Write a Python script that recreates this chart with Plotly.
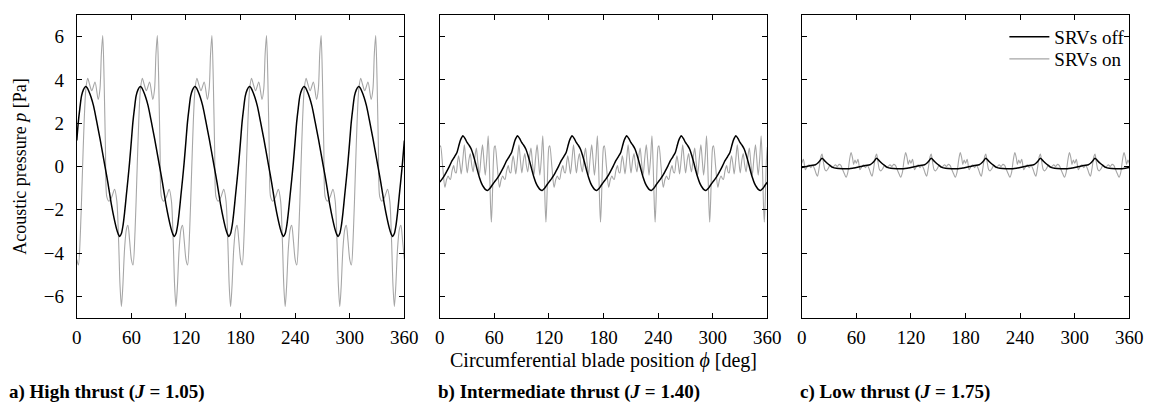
import numpy as np
import plotly.graph_objects as go

# ---------------- data (one 60-degree blade period) ----------------
blade_count = 6
period_deg = 60

# a) High thrust
a_off_phase = [0, 1.6, 3.4, 5.2, 7.3, 9.4, 11.2, 13, 15.7, 18.4, 22, 25.6, 29.2, 32.8, 35.5,
               38.2, 41, 43.6, 45.5, 47.2, 49, 50.8, 52.6, 54.4, 56.2, 58]
a_off_p = [1.2, 2.03, 2.7, 3.26, 3.55, 3.69, 3.65, 3.5, 3.2, 2.8, 2.05, 1.26, 0.42, -0.42, -1.1,
           -1.8, -2.4, -2.87, -3.12, -3.23, -3.1, -2.72, -2.1, -1.34, -0.6, 0.19]
a_on_phase = [0, 1.8, 4, 6, 8, 10, 12, 14, 16.5, 20, 23.5, 25.5, 27, 28.5, 30, 31.5, 33, 35.5,
              38.5, 41.5, 44, 46, 47.5, 49, 50.5, 52.5, 54.5, 56.2, 58]
a_on_p = [-4.3, -4.55, -3.0, -0.5, 2.0, 3.6, 4.07, 3.8, 3.5, 3.9, 3.1, 3.6, 5.2, 6.05, 4.0, 0.8,
          -1.4, -1.6, -1.4, -1.05, -1.6, -3.5, -5.5, -6.47, -5.6, -3.8, -2.9, -2.72, -3.4]

# b) Intermediate thrust
b_off_phase = [0, 2.7, 5.4, 8.1, 10.8, 13.5, 16.2, 18.9, 20.7, 22.5, 24, 25.4, 27.7, 30, 32.4,
               34.7, 36.9, 39.1, 41.3, 43.5, 45.9, 48.3, 50.4, 52.5, 55, 57.3]
b_off_p = [-0.72, -0.57, -0.4, -0.19, 0.03, 0.27, 0.45, 0.65, 0.92, 1.19, 1.33, 1.42, 1.3, 1.11,
           0.97, 0.8, 0.52, 0.19, -0.17, -0.5, -0.78, -0.96, -1.07, -1.11, -1.02, -0.88]
b_on_phase = [0, 0.9, 3.2, 5.6, 7.5, 9.2, 10.5, 11.7, 13.5, 15.3, 16.8, 18.0, 19.5, 20.7, 22.2,
              23.6, 25.3, 27, 28.6, 30.2, 32, 33.5, 35, 36.7, 38.5, 40.2, 41.8, 43.5, 45.3, 47,
              48.5, 50, 51.7, 53.2, 54.6, 55.8, 56.7, 57.7, 59]
b_on_p = [0.9, 0.96, 0.0, -0.96, -0.6, -0.44, -0.55, -0.6, -0.2, 0.04, -0.25, -0.3, 0.2, 0.5, 0.1,
          -0.34, 0.3, 1.0, 0.3, -0.3, 0.3, 0.6, 0.1, -0.25, 0.4, 0.85, 0.2, -0.4, 0.4, 1.0,
          0.3, -0.4, 0.4, 1.42, 0.0, -1.8, -2.57, -1.6, 0.3]

# c) Low thrust
c_off_phase = [0, 5, 10, 15, 18, 20, 22.3, 25, 28, 31, 34, 38, 45, 52, 57]
c_off_p = [-0.05, 0.0, 0.05, 0.08, 0.17, 0.27, 0.38, 0.27, 0.15, 0.05, -0.04, -0.08, -0.1, -0.1, -0.07]
c_on_phase = [0, 1.8, 4, 6, 8, 10, 12, 14, 16, 17.3, 19, 21, 22.3, 23.8, 25.5, 27, 29, 31, 33,
              35, 37, 39, 41, 43, 45, 47, 48.8, 50.5, 52.5, 54.2, 55.8, 57, 58.5]
c_on_p = [0.15, 0.33, -0.15, 0.0, 0.08, -0.05, 0.05, -0.1, -0.35, -0.45, -0.1, 0.45, 0.57, 0.2,
          -0.15, -0.2, -0.1, 0.05, -0.05, 0.0, 0.08, 0.0, 0.1, 0.05, -0.15, -0.35, -0.5, -0.3,
          0.3, 0.65, 0.4, 0.1, 0.3]

x_ticks = [0, 60, 120, 180, 240, 300, 360]
y_ticks = [-6, -4, -2, 0, 2, 4, 6]
series_names = ["SRVs off", "SRVs on"]
panel_labels = ["<b>a) High thrust (<i>J</i> = 1.05)</b>",
                "<b>b) Intermediate thrust (<i>J</i> = 1.40)</b>",
                "<b>c) Low thrust (<i>J</i> = 1.75)</b>"]


def full_revolution(phase, values):
    ph = np.asarray(phase, float)
    v = np.asarray(values, float)
    xs = np.concatenate([ph + period_deg * k for k in range(blade_count)] + [[360.0]])
    ys = np.concatenate([v for _ in range(blade_count)] + [[v[0]]])
    return xs, ys


panels = [
    (a_off_phase, a_off_p, a_on_phase, a_on_p),
    (b_off_phase, b_off_p, b_on_phase, b_on_p),
    (c_off_phase, c_off_p, c_on_phase, c_on_p),
]

W, H = 1161, 409
x_domains = [[73 / W, 406 / W], [442 / W, 775 / W], [810 / W, 1143 / W]]
y_domain = [1 - 318 / H, 1 - 15 / H]

FONT = "Liberation Serif"
fig = go.Figure()

for i, (off_ph, off_v, on_ph, on_v) in enumerate(panels):
    xa = "x" if i == 0 else f"x{i + 1}"
    ya = "y" if i == 0 else f"y{i + 1}"
    x_on, y_on = full_revolution(on_ph, on_v)
    x_off, y_off = full_revolution(off_ph, off_v)
    fig.add_trace(go.Scatter(x=x_on, y=y_on, mode="lines", name=series_names[1],
                             line=dict(color="#a6a6a6", width=1.1, shape="spline", smoothing=0.8),
                             xaxis=xa, yaxis=ya, showlegend=(i == 2), legend="legend2"))
    fig.add_trace(go.Scatter(x=x_off, y=y_off, mode="lines", name=series_names[0],
                             line=dict(color="black", width=1.5, shape="spline", smoothing=0.8),
                             xaxis=xa, yaxis=ya, showlegend=(i == 2), legend="legend"))

axis_common = dict(showline=True, linecolor="black", linewidth=1, mirror="ticks",
                   ticks="inside", ticklen=5, tickcolor="black", showgrid=False, zeroline=False,
                   tickfont=dict(family=FONT, size=19, color="black"))

legend_common = dict(xanchor="left", yanchor="middle", bgcolor="rgba(0,0,0,0)",
                     font=dict(family=FONT, size=19), itemwidth=40)
layout = dict(width=W, height=H, margin=dict(l=0, r=0, t=0, b=0),
              paper_bgcolor="white", plot_bgcolor="white",
              font=dict(family=FONT, size=19, color="black"),
              legend=dict(legend_common, x=1016 / W, y=1 - 37 / H),
              legend2=dict(legend_common, x=1016 / W, y=1 - 59 / H))
for i in range(3):
    xk = "xaxis" if i == 0 else f"xaxis{i + 1}"
    yk = "yaxis" if i == 0 else f"yaxis{i + 1}"
    layout[xk] = dict(axis_common, domain=x_domains[i], range=[0, 360], tickvals=x_ticks,
                      ticklabelstandoff=2, anchor="y" if i == 0 else f"y{i + 1}")
    layout[yk] = dict(axis_common, domain=y_domain, range=[-7, 7], tickvals=y_ticks,
                      ticklabelstandoff=8, showticklabels=(i == 0),
                      anchor="x" if i == 0 else f"x{i + 1}")
fig.update_layout(**layout)

annotations = [
    dict(text="Acoustic pressure <i>p</i> [Pa]", x=15 / W, y=1 - 167 / H, textangle=-90,
         showarrow=False, xref="paper", yref="paper", xanchor="center", yanchor="middle",
         font=dict(family=FONT, size=18)),
    dict(text="Circumferential blade position <i>ϕ</i> [deg]", x=608 / W, y=1 - 360 / H,
         showarrow=False, xref="paper", yref="paper", xanchor="center", yanchor="middle",
         font=dict(family=FONT, size=20)),
]
label_x = [2, 438, 806]
for lx, lab in zip(label_x, panel_labels):
    annotations.append(dict(text=lab, x=lx / W, y=1 - 392 / H, showarrow=False, xref="paper",
                            yref="paper", xanchor="left", yanchor="middle",
                            font=dict(family=FONT, size=19)))
fig.update_layout(annotations=annotations)

fig.write_html("out.html")
